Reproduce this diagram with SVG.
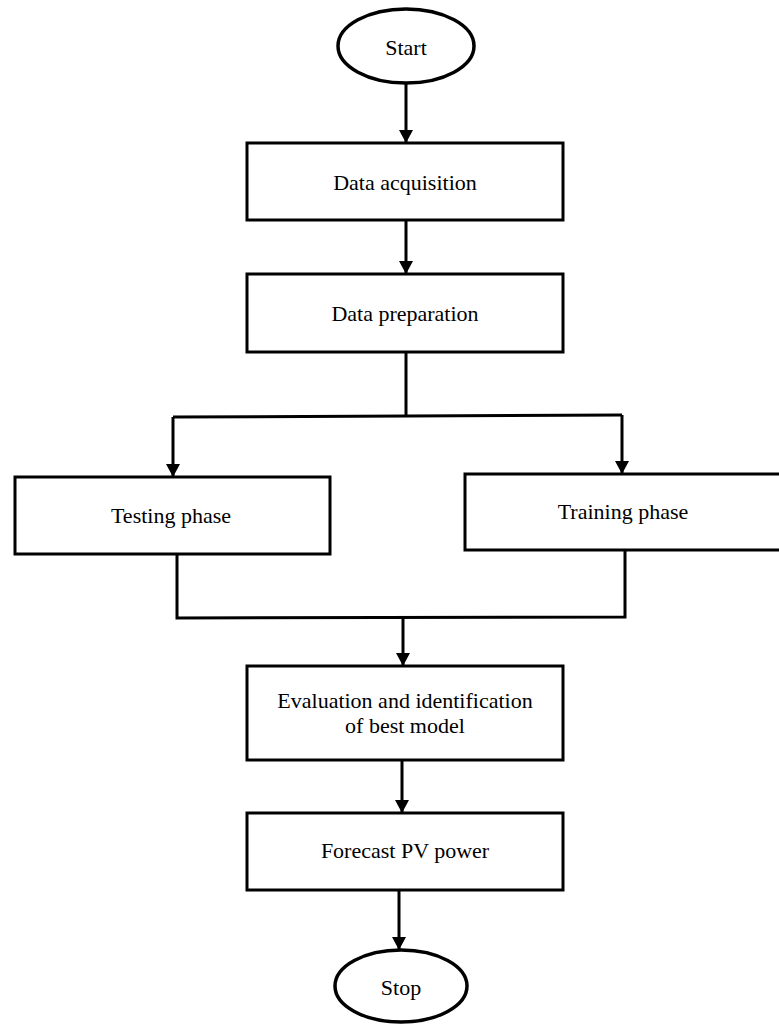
<svg xmlns="http://www.w3.org/2000/svg" width="779" height="1025" viewBox="0 0 779 1025">
<style>
.box{fill:#fff;stroke:#000;stroke-width:3}
.term{fill:#fff;stroke:#000;stroke-width:3.5}
.lbl{font-family:"Liberation Serif","Times New Roman",serif;font-size:22px;fill:#000;text-anchor:middle}
.con{fill:none;stroke:#000;stroke-width:3}
</style>
<defs>
<marker id="ah" markerUnits="userSpaceOnUse" markerWidth="14" markerHeight="14" refX="13" refY="7" orient="auto">
<path d="M0,0 L13,7 L0,14 Z" fill="#000"/>
</marker>
</defs>
<rect width="779" height="1025" fill="#fff"/>
<g id="connectors">
<path class="con" d="M406,83 V143" marker-end="url(#ah)"/>
<path class="con" d="M406,220 V274" marker-end="url(#ah)"/>
<path class="con" d="M406,352 V416"/>
<path class="con" d="M173,417 L622,415"/>
<path class="con" d="M173,417 V477" marker-end="url(#ah)"/>
<path class="con" d="M622,415 V474" marker-end="url(#ah)"/>
<path class="con" d="M177,554 V618 L625,617 V550"/>
<path class="con" d="M403,618 V666" marker-end="url(#ah)"/>
<path class="con" d="M402,760 V813" marker-end="url(#ah)"/>
<path class="con" d="M399,890 V950" marker-end="url(#ah)"/>
</g>
<g id="start">
<ellipse class="term" cx="406" cy="46" rx="68" ry="37"/>
<text class="lbl" x="406" y="55">Start</text>
</g>
<g id="data-acquisition">
<rect class="box" x="247" y="143" width="316" height="77"/>
<text class="lbl" x="405" y="190">Data acquisition</text>
</g>
<g id="data-preparation">
<rect class="box" x="247" y="274" width="316" height="78"/>
<text class="lbl" x="405" y="321">Data preparation</text>
</g>
<g id="testing-phase">
<rect class="box" x="15" y="477" width="315" height="77"/>
<text class="lbl" x="171" y="523">Testing phase</text>
</g>
<g id="training-phase">
<rect class="box" x="465" y="474" width="330" height="76"/>
<text class="lbl" x="623" y="519">Training phase</text>
</g>
<g id="evaluation">
<rect class="box" x="247" y="666" width="316" height="94"/>
<text class="lbl" x="405" y="708">Evaluation and identification</text>
<text class="lbl" x="405" y="733">of best model</text>
</g>
<g id="forecast">
<rect class="box" x="247" y="813" width="316" height="77"/>
<text class="lbl" x="405" y="858">Forecast PV power</text>
</g>
<g id="stop">
<ellipse class="term" cx="401" cy="986" rx="66" ry="36"/>
<text class="lbl" x="401" y="995">Stop</text>
</g>
</svg>
